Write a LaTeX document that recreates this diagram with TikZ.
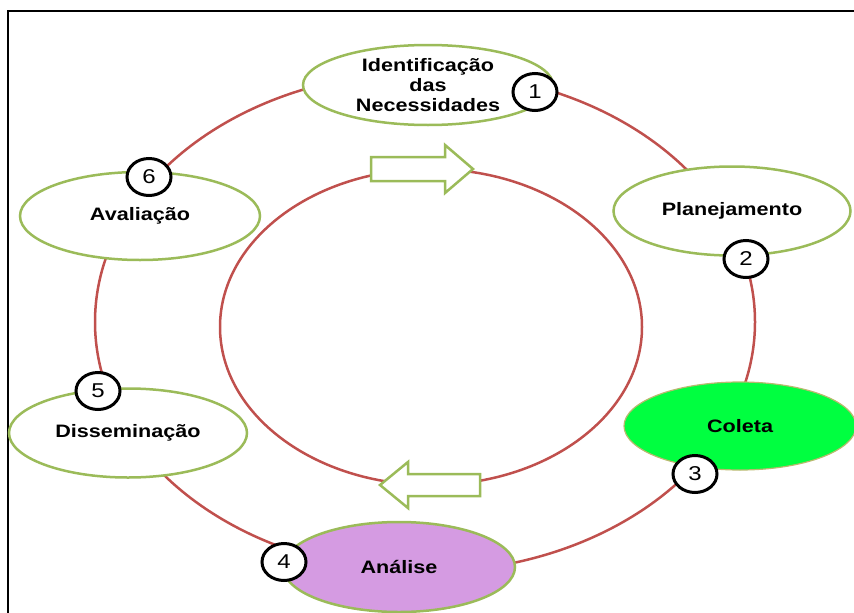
\documentclass[tikz,border=0pt]{standalone}
\usepackage{fontspec}
\setmainfont{Liberation Sans}[FakeStretch=1.2]
\usepackage{xcolor}
\definecolor{OffGreen}{RGB}{155,187,89}
\definecolor{OffRed}{RGB}{192,80,77}
\definecolor{OffOlive}{RGB}{185,185,110}
\definecolor{LimeFill}{RGB}{0,255,64}
\definecolor{LilacFill}{RGB}{213,155,226}
\usetikzlibrary{shapes.geometric}

\begin{document}
\begin{tikzpicture}[
      , x=1pt, y=-1pt
      , phase/.style={ellipse, draw=OffGreen, line width=2.5pt, fill=white, inner sep=0pt, minimum width=238pt, minimum height=89pt, font=\bfseries\fontsize{18}{20}\selectfont, align=center}
      , stepnum/.style={ellipse, draw=black, line width=3pt, fill=white, inner sep=0pt, minimum width=44pt, minimum height=37pt, font=\fontsize{20}{22}\selectfont}
      , ring/.style={color=OffRed, line width=2.5pt}
      , turn/.style={draw=OffGreen, line width=2.5pt, fill=white, line join=miter}
      ]

      \useasboundingbox (0,0) rectangle (854,613);
      \draw[line width=2pt] (8,11) rectangle (872,632);

      % the two rings
      \coordinate (outer-centre) at (425,322);
      \coordinate (inner-centre) at (431,327);
      \draw[ring] (outer-centre) ellipse [x radius=330, y radius=250];
      \draw[ring] (inner-centre) ellipse [x radius=211, y radius=158];

      % block arrows on the inner ring
      \coordinate (turn-top) at (371,157);
      \draw[turn] (turn-top) -- ++(74,0) -- ++(0,-12) -- ++(28,24) -- ++(-28,24) -- ++(0,-12) -- ++(-74,0) -- cycle;
      \coordinate (turn-bottom) at (480,474);
      \draw[turn] (turn-bottom) -- ++(-72,0) -- ++(0,-12) -- ++(-28,23) -- ++(28,23) -- ++(0,-12) -- ++(72,0) -- cycle;

      \node[phase, minimum width=250pt, minimum height=80pt] (ident) at (428,85) {Identificação\\das\\Necessidades};
      \node[phase, minimum width=237pt] (plan) at (732,211) {Planejamento};
      \node[phase, fill=LimeFill, draw=OffOlive, line width=1.2pt, minimum width=232pt, minimum height=88pt] (coleta) at (740,426) {Coleta};
      \node[phase, fill=LilacFill, minimum width=232pt, minimum height=90pt] (analise) at (399,567) {Análise};
      \node[phase] (dissem) at (128,433) {Disseminação};
      \node[phase, minimum width=240pt, minimum height=88pt] (aval) at (140,216) {Avaliação};

      \node[stepnum] (n1) at (535,92) {1};
      \node[stepnum] (n2) at (746,259) {2};
      \node[stepnum] (n3) at (695,474) {3};
      \node[stepnum] (n4) at (284,562) {4};
      \node[stepnum] (n5) at (98,391) {5};
      \node[stepnum] (n6) at (149,177) {6};
    \end{tikzpicture}
\end{document}
